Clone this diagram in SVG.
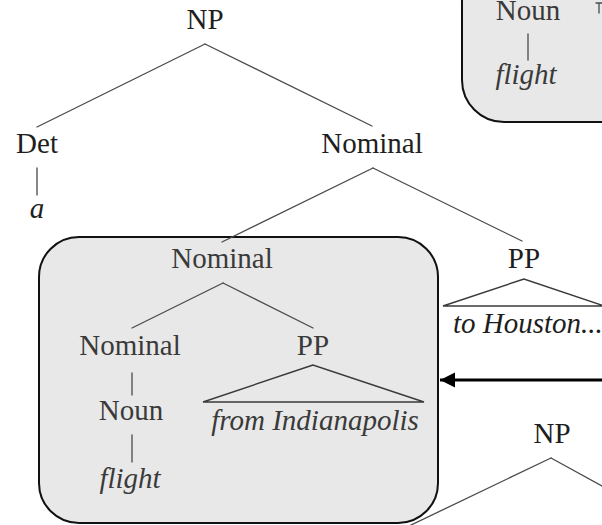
<svg xmlns="http://www.w3.org/2000/svg" width="602" height="525" viewBox="0 0 602 525">
  <style>
    text { font-family: 'Liberation Serif', 'DejaVu Serif', serif; font-size: 29px; fill: #1e1e1e; text-anchor: middle; }
    text.in { fill: #3a3a3a; }
    text.it { font-style: italic; }
    .edge { stroke: #4a4a4a; stroke-width: 1.3; fill: none; stroke-linecap: round; }
    .tri { stroke: #3a3a3a; stroke-width: 1.4; fill: none; stroke-linejoin: miter; }
    .box { fill: #e8e8e8; stroke: #111; stroke-width: 2; }
  </style>
  <defs>
    <marker id="head" markerWidth="6" markerHeight="6" refX="5" refY="2.5" orient="auto" markerUnits="strokeWidth">
      <path d="M0,0 L5,2.5 L0,5 Z" fill="#000"/>
    </marker>
  </defs>
  <rect width="602" height="525" fill="#fff"/>

  <!-- highlighted subtrees -->
  <g id="box-top">
    <rect class="box" x="462" y="-40" width="200" height="162" rx="42"/>
  </g>
  <g id="box-main">
    <rect class="box" x="39" y="237" width="399" height="286" rx="40"/>
  </g>

  <!-- tree branches -->
  <g id="connectors">
    <line class="edge" x1="205" y1="44" x2="37" y2="127"/>
    <line class="edge" x1="205" y1="44" x2="372" y2="126"/>
    <line class="edge" x1="37" y1="168" x2="37" y2="195"/>
    <line class="edge" x1="373" y1="168" x2="222" y2="242"/>
    <line class="edge" x1="373" y1="168" x2="522" y2="241"/>
    <line class="edge" x1="223" y1="283" x2="132" y2="328"/>
    <line class="edge" x1="223" y1="283" x2="313" y2="328"/>
    <line class="edge" x1="132" y1="373" x2="132" y2="395"/>
    <line class="edge" x1="132" y1="435" x2="132" y2="462"/>
    <polygon class="tri" points="313,365 203,402 424,402"/>
    <polygon class="tri" points="524,279 443,306 604,306"/>
    <line class="edge" x1="528" y1="34" x2="528" y2="60"/>
    <line class="edge" x1="551" y1="458" x2="409" y2="526"/>
    <line class="edge" x1="551" y1="458" x2="604" y2="487"/>
    <path class="edge" d="M596,3 H603 M599,3 V13"/>
    <line x1="603" y1="380" x2="440" y2="380" stroke="#000" stroke-width="3" marker-end="url(#head)"/>
  </g>

  <!-- labels -->
  <g id="np-root"><text x="205" y="29">NP</text></g>
  <g id="det"><text x="37" y="153">Det</text></g>
  <g id="word-a"><text class="it" x="37" y="218">a</text></g>
  <g id="nominal-top"><text x="372" y="153">Nominal</text></g>
  <g id="nominal-mid"><text class="in" x="222" y="268">Nominal</text></g>
  <g id="pp-right"><text x="524" y="268">PP</text></g>
  <g id="to-houston"><text class="it" x="453" y="333" style="text-anchor:start">to Houston...</text></g>
  <g id="nominal-low"><text class="in" x="130" y="355">Nominal</text></g>
  <g id="pp-inner"><text class="in" x="313" y="355">PP</text></g>
  <g id="noun-low"><text class="in" x="131" y="420">Noun</text></g>
  <g id="from-indianapolis"><text class="in it" x="315" y="430">from Indianapolis</text></g>
  <g id="flight-low"><text class="in it" x="130" y="488">flight</text></g>
  <g id="noun-top"><text class="in" x="528" y="20">Noun</text></g>
  <g id="flight-top"><text class="in it" x="526" y="84">flight</text></g>
  <g id="np-bottom"><text x="552" y="443">NP</text></g>
</svg>
